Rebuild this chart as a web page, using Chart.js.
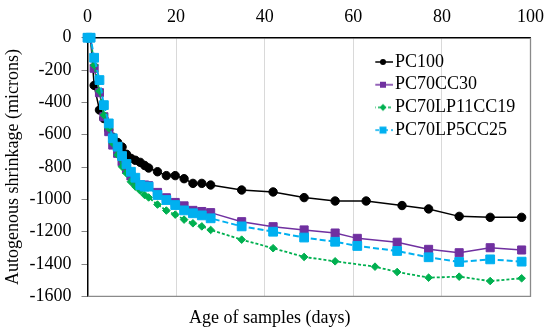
<!DOCTYPE html>
<html>
<head>
<meta charset="utf-8">
<script src="https://cdn.jsdelivr.net/npm/chart.js@4.4.1/dist/chart.umd.min.js"></script>
<style>
html,body{margin:0;padding:0;background:#fff}
#wrap{width:554px;height:333px}
</style>
</head>
<body>
<div id="wrap"><canvas id="c" width="554" height="333"></canvas></div>
<script>
// ages (days) and autogenous shrinkage (microns)
const daysPC100=[0,0.7,1.5,2.7,3.7,4.8,5.7,6.8,7.8,8.8,9.8,10.8,11.9,12.9,13.8,15.8,17.8,19.8,21.8,23.8,25.8,27.8,34.8,41.9,48.9,55.9,62.9,71,77,83.9,90.9,98];
const PC100=[0,0,-295,-447,-500,-570,-615,-648,-676,-721,-746,-758,-771,-790,-806,-829,-853,-853,-872,-901,-901,-911,-942,-954,-989,-1010,-1010,-1038,-1059,-1105,-1111,-1111];

const daysPC70CC30=[0,0.7,1.5,2.7,3.7,4.8,5.7,6.8,7.8,8.8,9.8,10.8,11.9,12.9,13.8,15.8,17.8,19.8,21.8,23.8,25.8,27.8,34.8,41.9,48.9,55.9,60.9,69.9,77,83.9,90.9,98];
const PC70CC30=[0,0,-189,-340,-489,-581,-664,-715,-767,-814,-855,-891,-911,-911,-915,-957,-990,-1019,-1040,-1068,-1075,-1082,-1138,-1169,-1189,-1208,-1241,-1265,-1309,-1330,-1299,-1313];

const daysPC70LP11CC19=[0,0.7,1.5,2.7,3.7,4.8,5.7,6.8,7.8,8.8,9.8,10.8,11.9,12.9,13.8,15.8,17.8,19.8,21.8,23.8,25.8,27.8,34.8,41.9,48.9,55.9,64.9,69.9,77,83.9,90.9,98];
const PC70LP11CC19=[0,0,-170,-330,-478,-560,-653,-725,-798,-839,-891,-921,-946,-973,-988,-1032,-1069,-1094,-1125,-1148,-1167,-1189,-1249,-1302,-1356,-1383,-1416,-1449,-1484,-1478,-1505,-1488];

const daysPC70LP5CC25=[0,0.7,1.5,2.7,3.7,4.8,5.7,6.8,7.8,8.8,9.8,10.8,11.9,12.9,13.8,15.8,17.8,19.8,21.8,23.8,25.8,27.8,34.8,41.9,48.9,55.9,60.9,69.9,77,83.9,90.9,98];
const PC70LP5CC25=[0,0,-124,-262,-417,-530,-622,-674,-732,-781,-829,-866,-911,-921,-921,-973,-1004,-1035,-1068,-1086,-1099,-1117,-1167,-1200,-1236,-1262,-1288,-1319,-1358,-1387,-1371,-1385];

const X_MIN=0,X_MAX=100,X_STEP=20;
const Y_MIN=-1600,Y_MAX=0,Y_STEP=200;

const SERIF="'Liberation Serif','Times New Roman',serif";
const FS=18;
const toXY=(d,v)=>d.map((x,i)=>({x,y:v[i]}));

const SERIES=[
  {label:'PC100',days:daysPC100,vals:PC100,color:'#000000',dash:[],style:'circle',r:4.2,w:1.5,order:4,leg:'circle',ls:6},
  {label:'PC70CC30',days:daysPC70CC30,vals:PC70CC30,color:'#7030A0',dash:[],style:'rect',r:5.7,w:1.5,order:3,leg:'rect',ls:6},
  {label:'PC70LP11CC19',days:daysPC70LP11CC19,vals:PC70LP11CC19,color:'#00B050',dash:[3,2],style:'rectRot',r:3.8,w:1.8,order:2,leg:'diamond',ls:7},
  {label:'PC70LP5CC25',days:daysPC70LP5CC25,vals:PC70LP5CC25,color:'#00B0F0',dash:[6,3],style:'rect',r:6.2,w:2,order:1,leg:'rect',ls:7},
];

// small line+marker sample for the legend (Excel style)
function legendImg(s){
  const c=document.createElement('canvas');c.width=20;c.height=12;
  const g=c.getContext('2d');
  g.strokeStyle=s.color;g.lineWidth=1.5;g.setLineDash(s.dash);
  g.beginPath();g.moveTo(0,6);g.lineTo(20,6);g.stroke();
  g.setLineDash([]);g.fillStyle=s.color;
  const h=s.ls/2;
  g.beginPath();
  if(s.leg==='circle')g.arc(10,6,h,0,Math.PI*2);
  else if(s.leg==='rect')g.rect(10-h,6-h,s.ls,s.ls);
  else{g.moveTo(10,6-h);g.lineTo(10+h,6);g.lineTo(10,6+h);g.lineTo(10-h,6);g.closePath();}
  g.fill();
  return c;
}
const legendImgs=SERIES.map(legendImg);

// grey frame on bottom/right of the plot area
const frame={id:'frame',beforeDatasetsDraw(c){
  const a=c.chartArea,g=c.ctx;
  g.save();g.strokeStyle='#8a8a8a';g.lineWidth=1.3;
  g.beginPath();g.moveTo(a.left,a.bottom);g.lineTo(a.right,a.bottom);g.lineTo(a.right,a.top);g.stroke();
  g.restore();
}};

// move the legend into the upper right of the plot
const LEG_PAD=4.7,LEG_LEFT=380-LEG_PAD,LEG_TOP=53-LEG_PAD;
const legendPos={id:'legendPos',afterUpdate(c){
  const l=c.legend;if(!l)return;
  l.left=LEG_LEFT;l.top=LEG_TOP;l.right=554;l.bottom=333;
  l.adjustHitBoxes();
}};

new Chart(document.getElementById('c'),{
  type:'line',
  data:{datasets:SERIES.map(s=>({
    label:s.label,data:toXY(s.days,s.vals),
    borderColor:s.color,backgroundColor:s.color,borderWidth:s.w,borderDash:s.dash,
    pointStyle:s.style,pointRadius:s.r,pointBorderWidth:1,
    pointBackgroundColor:s.color,pointBorderColor:s.color,
    tension:0,fill:false,order:s.order,clip:false
  }))},
  options:{
    responsive:false,animation:false,
    layout:{padding:{left:0,right:14.5,top:0,bottom:1}},
    scales:{
      x:{type:'linear',position:'top',min:X_MIN,max:X_MAX,
        ticks:{stepSize:X_STEP,padding:10,color:'#000',font:{family:SERIF,size:FS}},
        grid:{color:'#d9d9d9',drawTicks:false,lineWidth:1},
        border:{color:'#000',width:1.5},
        afterFit:s=>{s.height=37.7}},
      y:{min:Y_MIN,max:Y_MAX,
        ticks:{stepSize:Y_STEP,padding:10,color:'#000',font:{family:SERIF,size:FS},callback:v=>String(v)},
        grid:{drawOnChartArea:false,drawTicks:true,tickLength:6,color:'#868686'},
        border:{color:'#000',width:1.5},
        title:{display:true,text:'Autogenous shrinkage (microns)',color:'#000',font:{family:SERIF,size:FS},padding:{top:2,bottom:0}},
        afterFit:s=>{s.width=87.5}}
    },
    plugins:{
      legend:{position:'chartArea',align:'start',
        labels:{usePointStyle:true,pointStyleWidth:6,padding:LEG_PAD,color:'#000',font:{family:SERIF,size:FS},
          generateLabels:()=>SERIES.map((s,i)=>({text:s.label,pointStyle:legendImgs[i],fillStyle:s.color,strokeStyle:s.color,lineWidth:0,hidden:false,datasetIndex:i,fontColor:'#000'}))}},
      title:{display:true,position:'bottom',text:'Age of samples (days)',color:'#000',font:{family:SERIF,size:FS,weight:'normal'},padding:{top:11.3,bottom:2.7}},
      tooltip:{enabled:false}
    }
  },
  plugins:[frame,legendPos]
});
</script>
</body>
</html>
